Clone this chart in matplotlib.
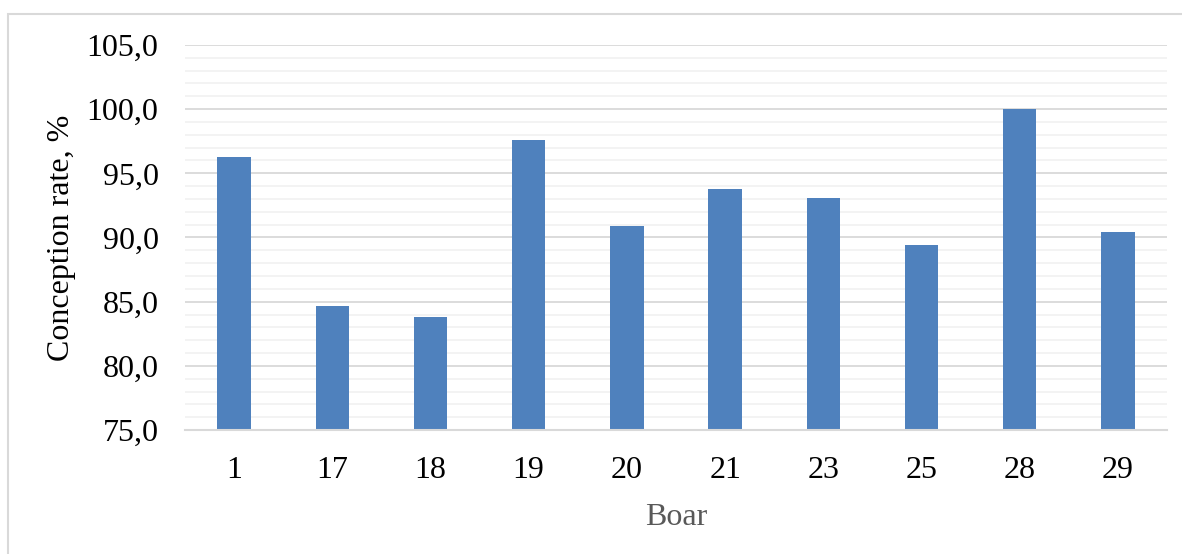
import matplotlib.pyplot as plt
from matplotlib.ticker import MultipleLocator, FuncFormatter
from matplotlib.patches import Rectangle

# data
boars = ["1", "17", "18", "19", "20", "21", "23", "25", "28", "29"]
conception = [96.3, 84.7, 83.8, 97.6, 90.9, 93.8, 93.1, 89.4, 100.0, 90.4]

plt.rcParams['font.family'] = ['Liberation Serif', 'DejaVu Serif']

fig = plt.figure(figsize=(11.82, 5.54), dpi=100)
ax = fig.add_axes([0.1565, 0.2238, 0.8308, 0.695])

# light chart border like the spreadsheet frame
fig.patches.append(Rectangle((8 / 1182, -0.1), 1.2, 1 - 14 / 554 + 0.1,
                             transform=fig.transFigure, fill=False,
                             edgecolor="#d9d9d9", linewidth=1.5))

x = range(len(boars))
ax.bar(x, conception, width=0.34, color="#4f81bd", zorder=3)

ax.set_xlim(-0.5, len(boars) - 0.5)
ax.set_ylim(75, 105)
ax.yaxis.set_major_locator(MultipleLocator(5))
ax.yaxis.set_minor_locator(MultipleLocator(1))
ax.yaxis.set_major_formatter(FuncFormatter(lambda v, p: f"{v:.1f}".replace(".", ",")))
ax.set_xticks(list(x))
ax.set_xticklabels(boars)

ax.grid(axis="y", which="major", color="#d9d9d9", linewidth=1.3, zorder=0)
ax.grid(axis="y", which="minor", color="#f2f2f2", linewidth=1.3, zorder=0)

for s in ["top", "right", "left"]:
    ax.spines[s].set_visible(False)
ax.spines["bottom"].set_color("#d9d9d9")
ax.spines["bottom"].set_linewidth(1.5)
ax.spines["bottom"].set_zorder(4)

ax.tick_params(axis="both", which="both", length=0, labelsize=23, colors="black")
ax.tick_params(axis="y", pad=19)
ax.tick_params(axis="x", pad=19)

ax.set_ylabel("Conception rate, %", fontsize=23, labelpad=8)
ax.set_xlabel("Boar", fontsize=23, color="#595959", labelpad=13)

plt.savefig("out.png", dpi=100)
